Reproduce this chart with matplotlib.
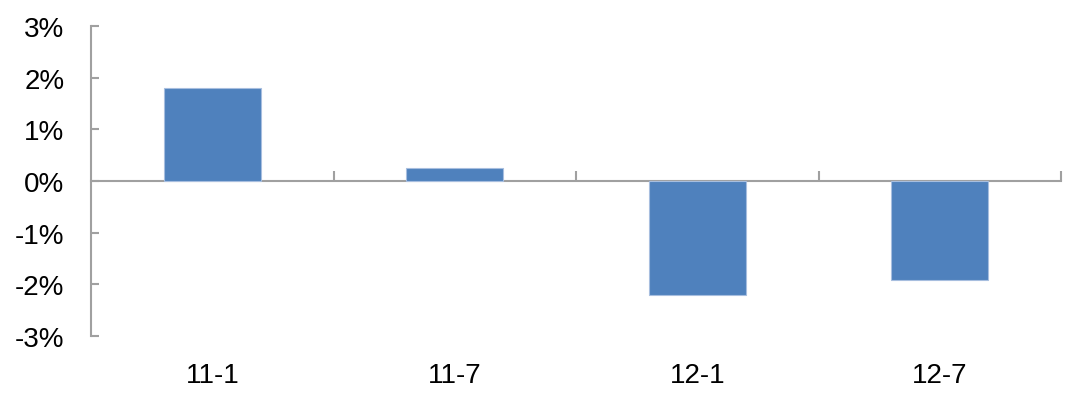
import matplotlib.pyplot as plt
from matplotlib.ticker import FuncFormatter

periods = ["11-1", "11-7", "12-1", "12-7"]
changes = [1.8, 0.26, -2.2, -1.91]

BAR_COLOR = "#4f81bd"
AXIS_COLOR = "#a0a0a0"

plt.rcParams["font.family"] = ["Liberation Sans", "DejaVu Sans"]

fig = plt.figure(figsize=(10.77, 4.02), dpi=100)
ax = fig.add_axes([91 / 1077, 65 / 402, 970 / 1077, 310 / 402])

x = range(len(periods))
ax.bar(x, changes, width=0.4, color=BAR_COLOR, edgecolor="#a7bedf", linewidth=0.8, zorder=2)

ax.set_xlim(-0.5, len(periods) - 0.5)
ax.set_ylim(-3, 3)
ax.set_yticks(range(-3, 4))
ax.yaxis.set_major_formatter(FuncFormatter(lambda v, _: f"{v:.0f}%"))
ax.tick_params(axis="y", direction="in", length=6, width=1.5, color=AXIS_COLOR,
               labelsize=20, pad=19)

ax.set_xticks(list(x), periods)
ax.tick_params(axis="x", length=0, labelsize=20, pad=19)

for side in ["top", "right", "bottom"]:
    ax.spines[side].set_visible(False)
ax.spines["left"].set_color(AXIS_COLOR)
ax.spines["left"].set_linewidth(1.5)

# zero line with category boundary ticks
sec = ax.secondary_xaxis(0, transform=ax.transData)
sec.set_xticks([i + 0.5 for i in x])
sec.set_xticklabels([])
sec.tick_params(direction="in", length=7, width=1.5, color=AXIS_COLOR)
sec.spines["bottom"].set_color(AXIS_COLOR)
sec.spines["bottom"].set_linewidth(1.5)
sec.spines["bottom"].set_zorder(3)

fig.savefig("out.png", dpi=100)
